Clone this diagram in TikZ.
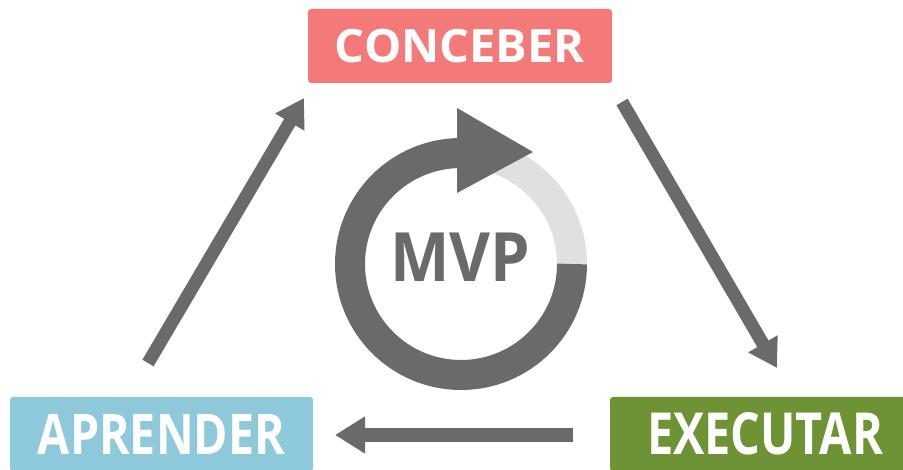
\documentclass[tikz,border=0pt]{standalone}
\usepackage{fontspec}
\usepackage{graphicx}
\newfontfamily\osfont{Open Sans}
\usetikzlibrary{arrows.meta}
\definecolor{salmon}{HTML}{F47A7A}
\definecolor{skyb}{HTML}{8DC8DB}
\definecolor{olive}{HTML}{6E9334}
\definecolor{dgray}{HTML}{6A6A6A}
\definecolor{lgray}{HTML}{E0E0E0}
\tikzset{
  box/.style={rectangle, rounded corners=3pt, inner sep=0pt, text=white, font=\osfont\bfseries},
  flow/.style={draw=dgray, line width=13pt, -{Triangle[width=32pt,length=28pt]}},
}
\begin{document}
\begin{tikzpicture}[x=1pt,y=1pt]
\clip (0,0) rectangle (903,469);
\fill[white] (0,0) rectangle (903,469);
% boxes
\node[box, fill=salmon, minimum width=304pt, minimum height=74pt] (conc) at (460,423)
  {\fontsize{46}{50}\selectfont\resizebox{250pt}{\height}{CONCEBER}};
\node[box, fill=skyb, minimum width=303pt, minimum height=74pt] (apr) at (161.5,35)
  {\raisebox{-3pt}{\fontsize{56}{60}\selectfont\resizebox{247pt}{\height}{APRENDER}}};
\node[box, fill=olive, minimum width=310pt, minimum height=74pt] (exe) at (765,35)
  {\fontsize{58}{62}\selectfont\resizebox{236pt}{\height}{EXECUTAR}};
% ring
\coordinate (c) at (461,205);
\draw[lgray, line width=30pt] (c) ++(0:111) arc[start angle=0, end angle=90, radius=111];
\draw[dgray, line width=30pt] (c) ++(0:111) arc[start angle=0, end angle=-270, radius=111];
\fill[dgray] (457,361) -- (533,317) -- (457,276) -- cycle;
\node[text=dgray, font=\osfont\bfseries, inner sep=0pt] (mvp) at (460,212)
  {\fontsize{68}{72}\selectfont\resizebox{140pt}{\height}{MVP}};
% arrows
\coordinate (a1s) at (148,106);
\coordinate (a1e) at (304,371);
\coordinate (a2s) at (622,367);
\coordinate (a2e) at (777,101);
\coordinate (a3s) at (573,34);
\coordinate (a3e) at (335,34);
\draw[flow] (a1s) -- (a1e);
\draw[flow] (a2s) -- (a2e);
\draw[flow, line width=14pt, -{Triangle[width=35pt,length=30pt]}] (a3s) -- (a3e);
\end{tikzpicture}
\end{document}
